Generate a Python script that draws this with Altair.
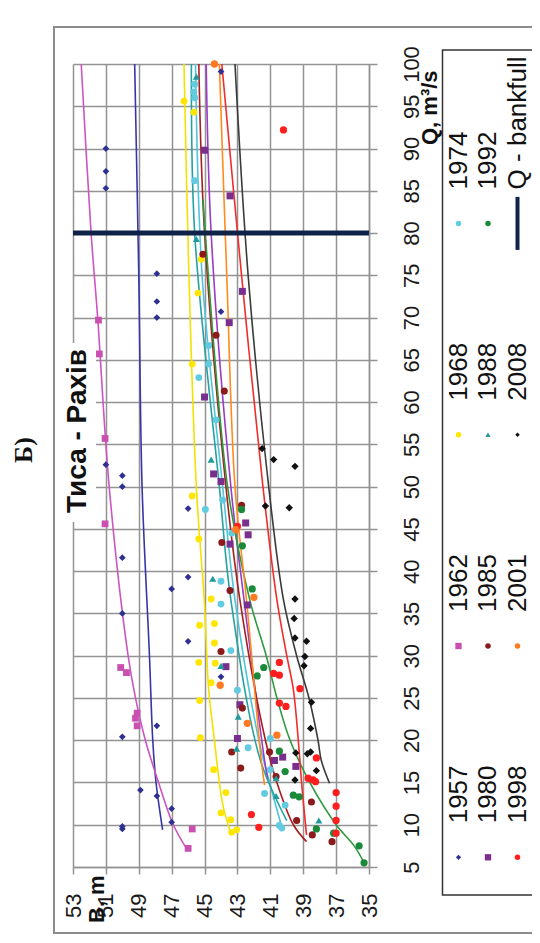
import altair as alt
import pandas as pd

# ---------------- data ----------------
SERIES = ["1957", "1962", "1968", "1974", "1980", "1985", "1988", "1992", "1998", "2001", "2008"]

# observed points: B (m) and Q (m3/s)
P1957_B = [51.0, 51.0, 51.0, 44.0, 47.9, 47.9, 47.9, 44.0, 51.0, 50.0, 50.0, 46.0, 50.0, 46.0, 47.0, 50.0, 46.0, 44.0, 47.9, 50.0, 48.9, 47.9, 47.0, 47.0, 50.0, 50.0]
P1957_Q = [90.0, 87.3, 85.3, 99.1, 75.2, 71.9, 70.0, 70.7, 52.6, 51.3, 50.0, 47.4, 41.6, 39.3, 37.9, 35.0, 31.7, 27.5, 21.7, 20.4, 14.1, 13.4, 11.9, 10.3, 9.5, 9.8]

P1962_B = [51.45, 51.4, 51.05, 51.05, 50.1, 49.75, 49.1, 49.2, 49.1, 45.75, 46.0]
P1962_Q = [69.7, 65.7, 55.7, 45.6, 28.6, 28.0, 23.2, 22.6, 21.7, 9.5, 7.2]

P1968_B = [46.25, 45.65, 45.2, 45.4, 45.75, 45.75, 45.35, 44.6, 45.3, 44.4, 44.4, 45.35, 44.35, 44.6, 45.3, 45.25, 44.45, 43.7, 44.0, 43.4, 43.35, 43.05]
P1968_Q = [95.6, 94.3, 76.9, 72.9, 64.5, 48.9, 43.8, 36.7, 33.6, 33.8, 31.5, 29.2, 29.1, 26.8, 24.7, 20.3, 16.5, 13.8, 11.4, 10.6, 9.1, 9.4]

P1974_B = [45.6, 45.65, 45.6, 45.6, 44.75, 44.75, 45.35, 44.3, 44.95, 43.9, 43.35, 44.0, 44.0, 43.4, 43.0, 42.35, 41.0, 41.0, 41.35, 40.1, 40.45, 40.3]
P1974_Q = [97.6, 96.7, 96.0, 86.2, 66.7, 64.5, 62.9, 57.9, 47.3, 48.4, 44.5, 38.8, 36.1, 30.6, 25.9, 19.1, 20.2, 16.5, 13.7, 12.3, 9.9, 9.6]

P1980_B = [45.0, 43.45, 42.7, 43.5, 45.0, 44.45, 44.0, 42.5, 42.35, 43.45, 42.4, 43.7, 42.85, 43.0, 40.75, 40.25, 39.45]
P1980_Q = [89.8, 84.4, 73.1, 69.4, 60.6, 51.5, 50.6, 45.7, 44.3, 43.2, 36.0, 28.7, 24.2, 20.2, 17.6, 18.0, 16.9]

P1985_B = [45.1, 44.3, 43.8, 42.75, 43.95, 43.45, 44.0, 42.7, 43.35, 42.8, 41.05, 40.65, 39.4, 38.5, 38.45, 37.25]
P1985_Q = [77.5, 67.9, 61.3, 47.8, 43.4, 37.7, 30.5, 23.8, 18.6, 16.7, 18.6, 15.7, 10.5, 12.7, 8.8, 8.0]

P1988_B = [45.5, 45.5, 44.6, 44.5, 44.0, 42.95, 43.05, 40.65, 40.65, 38.05]
P1988_Q = [98.5, 79.3, 53.2, 39.1, 28.8, 22.8, 19.0, 15.5, 13.4, 10.5]

P1992_B = [42.75, 42.7, 42.1, 41.4, 41.8, 40.45, 40.1, 39.6, 39.25, 38.2, 37.15, 35.6, 35.3]
P1992_Q = [47.3, 43.0, 37.9, 28.6, 27.6, 18.7, 16.3, 13.5, 13.3, 9.5, 9.0, 7.5, 5.5]

P1998_B = [40.2, 40.45, 40.8, 40.45, 39.2, 40.45, 40.05, 38.2, 38.7, 38.4, 38.25, 42.15, 41.7, 37.0, 37.0, 37.0, 37.0, 43.0]
P1998_Q = [92.2, 29.2, 27.9, 27.7, 26.1, 24.4, 24.0, 17.9, 15.5, 15.3, 15.1, 11.2, 9.7, 13.8, 12.2, 10.5, 9.0, 45.3]

P2001_B = [44.4, 43.1, 42.0, 44.05, 42.4, 40.6]
P2001_Q = [100.0, 44.9, 36.9, 26.5, 22.0, 20.6]

P2008_B = [41.5, 40.8, 39.5, 41.3, 39.85, 39.5, 39.55, 39.5, 38.8, 38.9, 38.95, 38.5, 38.55, 39.45, 38.75, 38.55, 39.5, 38.2]
P2008_Q = [54.5, 53.2, 52.4, 47.7, 47.5, 36.7, 34.4, 32.1, 31.7, 29.9, 28.8, 24.5, 21.4, 18.5, 18.4, 18.6, 15.3, 16.4]

# trend lines: Q and B
L1957_Q = [9.4, 15, 20, 30, 50, 75, 100]
L1957_B = [47.55, 47.95, 48.15, 48.35, 48.8, 49.0, 49.25]
L1962_Q = [7.2, 10, 15, 20, 25, 30, 50, 70, 80, 100]
L1962_B = [46.1, 46.9, 47.8, 48.6, 49.2, 49.65, 50.8, 51.5, 51.9, 52.5]
L1968_Q = [9.0, 12, 15, 20, 26, 36, 50, 75, 100]
L1968_B = [43.4, 43.85, 44.1, 44.4, 44.75, 45.0, 45.5, 45.95, 46.25]
L1974_Q = [9.7, 15, 20, 36.6, 50, 75, 100]
L1974_B = [40.3, 41.05, 41.7, 43.15, 43.9, 45.15, 45.55]
L1980_Q = [15.3, 17.6, 36.6, 50, 80, 100]
L1980_B = [41.15, 41.35, 42.6, 43.4, 44.6, 44.9]
L1985_Q = [8.0, 10, 15, 20, 36.6, 50, 80, 100]
L1985_B = [38.8, 39.6, 40.6, 41.3, 42.85, 43.7, 45.0, 45.35]
L1988_Q = [10.5, 17.6, 36.6, 50, 80, 100]
L1988_B = [40.0, 41.6, 43.4, 44.1, 45.6, 45.8]
L1992_Q = [5.5, 7.5, 10, 15, 20, 25, 30, 36.6, 50, 84]
L1992_B = [35.3, 35.9, 37.0, 38.6, 39.8, 40.6, 41.25, 42.25, 43.6, 45.1]
L1998_Q = [8.8, 15, 20, 26, 30, 36.6, 50, 75, 100]
L1998_B = [38.8, 39.1, 39.3, 39.6, 40.0, 40.6, 41.45, 42.75, 43.95]
L2001_Q = [14.7, 17.6, 36.6, 50, 75, 100]
L2001_B = [41.35, 41.55, 42.45, 43.15, 43.65, 44.1]
L2008_Q = [14.9, 17.6, 20, 25, 30, 36.6, 50, 75, 100]
L2008_B = [37.4, 37.9, 38.1, 38.65, 39.4, 40.2, 41.1, 42.35, 43.15]

BANKFULL_Q = [80, 80]
BANKFULL_B = [53, 35]

B_TICKS = [53, 51, 49, 47, 45, 43, 41, 39, 37, 35]
Q_TICKS = [5, 10, 15, 20, 25, 30, 35, 40, 45, 50, 55, 60, 65, 70, 75, 80, 85, 90, 95, 100]

TITLE = "Тиса - Рахів"
PANEL = "Б)"
X_TITLE = "Q, m³/s"
Y_TITLE = "B, m"
BANKFULL_LABEL = "Q - bankfull"

# ---------------- styles ----------------
PT_COLOR = ["#2E3192", "#C94FB0", "#FFE600", "#62CBE0", "#7A2E8E", "#8B1A1A",
            "#22999A", "#1A8A3A", "#FF1F1F", "#FF7A20", "#111111"]
LN_COLOR = ["#3636A8", "#CC55C0", "#F2E200", "#4FC4DE", "#9A3CC4", "#A61E1E",
            "#27A0A0", "#2C9A3E", "#F22B2B", "#FF8A1E", "#3A3A3A"]
SHAPE = ["diamond", "square", "circle", "circle", "square", "circle",
         "triangle-up", "circle", "circle", "circle", "diamond"]
SIZE = [45, 55, 50, 55, 55, 50, 45, 55, 50, 45, 25]
LEG_SIZE = [28, 40, 30, 30, 40, 30, 28, 30, 30, 30, 20]
GRID = "#939393"
FONT = "Liberation Sans"

PB = [P1957_B, P1962_B, P1968_B, P1974_B, P1980_B, P1985_B, P1988_B, P1992_B, P1998_B, P2001_B, P2008_B]
PQ = [P1957_Q, P1962_Q, P1968_Q, P1974_Q, P1980_Q, P1985_Q, P1988_Q, P1992_Q, P1998_Q, P2001_Q, P2008_Q]
LB = [L1957_B, L1962_B, L1968_B, L1974_B, L1980_B, L1985_B, L1988_B, L1992_B, L1998_B, L2001_B, L2008_B]
LQ = [L1957_Q, L1962_Q, L1968_Q, L1974_Q, L1980_Q, L1985_Q, L1988_Q, L1992_Q, L1998_Q, L2001_Q, L2008_Q]

pts = pd.concat([pd.DataFrame({"series": s, "B": b, "Q": q}) for s, b, q in zip(SERIES, PB, PQ)])
lns = pd.concat([pd.DataFrame({"series": s, "B": b, "Q": q}) for s, b, q in zip(SERIES, LB, LQ)])
bank = pd.DataFrame({"B": BANKFULL_B, "Q": BANKFULL_Q})
one = pd.DataFrame({"k": [0]})

W, H = 296, 803

XAX = alt.Axis(values=B_TICKS, orient="bottom", labelAngle=270, labelAlign="right",
               labelBaseline="middle", labelFontSize=22, labelFont=FONT,
               labelColor="#1a1a1a", labelPadding=19, tickSize=7, tickColor=GRID,
               tickWidth=1.5, domainColor=GRID, domainWidth=1.5, grid=True,
               gridColor=GRID, gridWidth=1.5, title=None, labelOverlap=False,
               labelFlush=False, labelBound=False)
YAX = alt.Axis(values=Q_TICKS, orient="right", labelAngle=270, labelAlign="center",
               labelBaseline="top", labelFontSize=22, labelFont=FONT,
               labelColor="#1a1a1a", labelPadding=24, tickSize=8, tickColor=GRID,
               tickWidth=1.5, domainColor=GRID, domainWidth=1.5, grid=True,
               gridColor=GRID, gridWidth=1.5, title=None, labelOverlap=False,
               labelFlush=False, labelBound=False)
XSC = alt.Scale(domain=[35, 53], reverse=True, nice=False, zero=False)
YSC = alt.Scale(domain=[5, 100], nice=False, zero=False)


def xenc():
    return alt.X("B:Q", scale=XSC, axis=XAX)


def yenc():
    return alt.Y("Q:Q", scale=YSC, axis=YAX)


layers = []

# chart-area frame
layers.append(alt.Chart(one).mark_rect(fillOpacity=0, stroke="#8c8c8c", strokeWidth=2).encode(
    x=alt.value(-19), x2=alt.value(480), y=alt.value(-37), y2=alt.value(869)))

# trend lines
layers.append(alt.Chart(lns).mark_line(strokeWidth=1.6, interpolate="catmull-rom").encode(
    x=xenc(), y=yenc(),
    color=alt.Color("series:N", scale=alt.Scale(domain=SERIES, range=LN_COLOR), legend=None),
    detail="series:N", order=alt.Order("Q:Q")))

# observed points
layers.append(alt.Chart(pts).mark_point(filled=True, opacity=1).encode(
    x=xenc(), y=yenc(),
    fill=alt.Fill("series:N", scale=alt.Scale(domain=SERIES, range=PT_COLOR), legend=None),
    shape=alt.Shape("series:N", scale=alt.Scale(domain=SERIES, range=SHAPE), legend=None),
    size=alt.Size("series:N", scale=alt.Scale(domain=SERIES, range=SIZE), legend=None)))

# bankfull discharge
layers.append(alt.Chart(bank).mark_line(color="#0E2347", strokeWidth=5).encode(x=xenc(), y=yenc()))

# title with white background
layers.append(alt.Chart(one).mark_rect(color="white").encode(
    x=alt.value(-11), x2=alt.value(23), y=alt.value(279), y2=alt.value(458)))
layers.append(alt.Chart(one).mark_text(angle=270, align="center", baseline="middle", fontSize=28,
                                       fontWeight="bold", font=FONT, color="#111").encode(
    x=alt.value(5), y=alt.value(367), text=alt.value(TITLE)))
layers.append(alt.Chart(one).mark_text(angle=270, align="left", baseline="middle", fontSize=22,
                                       fontWeight="bold", font=FONT, color="#111").encode(
    x=alt.value(357), y=alt.value(81), text=alt.value(X_TITLE)))
layers.append(alt.Chart(one).mark_text(angle=270, align="left", baseline="middle", fontSize=22,
                                       fontWeight="bold", font=FONT, color="#111").encode(
    x=alt.value(24), y=alt.value(859), text=alt.value(Y_TITLE)))
layers.append(alt.Chart(one).mark_text(angle=270, align="center", baseline="middle", fontSize=26,
                                       fontWeight="bold", font="Liberation Serif", color="#111").encode(
    x=alt.value(-49), y=alt.value(386), text=alt.value(PANEL)))

# legend (rotated, built by hand)
layers.append(alt.Chart(one).mark_rect(fill="white", stroke="#333333", strokeWidth=1.5).encode(
    x=alt.value(369.5), x2=alt.value(480), y=alt.value(-14), y2=alt.value(831)))
LEG_LABELS = SERIES + [BANKFULL_LABEL]
for i, lab in enumerate(LEG_LABELS):
    r, c = i // 4, i % 4
    lx = 385.5 + 29.5 * r
    ly = 793.3 - 211.3 * c
    if i < len(SERIES):
        layers.append(alt.Chart(one).mark_point(filled=True, opacity=1, shape=SHAPE[i],
                                                size=LEG_SIZE[i], color=PT_COLOR[i]).encode(
            x=alt.value(lx), y=alt.value(ly)))
    else:
        layers.append(alt.Chart(one).mark_rule(color="#0E2347", strokeWidth=4).encode(
            x=alt.value(lx), y=alt.value(ly - 26.5), y2=alt.value(ly + 26.5)))
    layers.append(alt.Chart(one).mark_text(angle=270, align="left", baseline="middle", fontSize=26,
                                           font=FONT, color="#111").encode(
        x=alt.value(lx), y=alt.value(ly - 34), text=alt.value(lab)))

chart = alt.layer(*layers).properties(
    width=W, height=H,
    autosize=alt.AutoSizeParams(type="none"),
    padding={"left": 65, "top": 56, "right": 163, "bottom": 68},
    background="white",
).configure_view(stroke="transparent").configure_axis(labelOverlap=False)

chart.save("out.html", embed_options={"renderer": "svg", "actions": False})
